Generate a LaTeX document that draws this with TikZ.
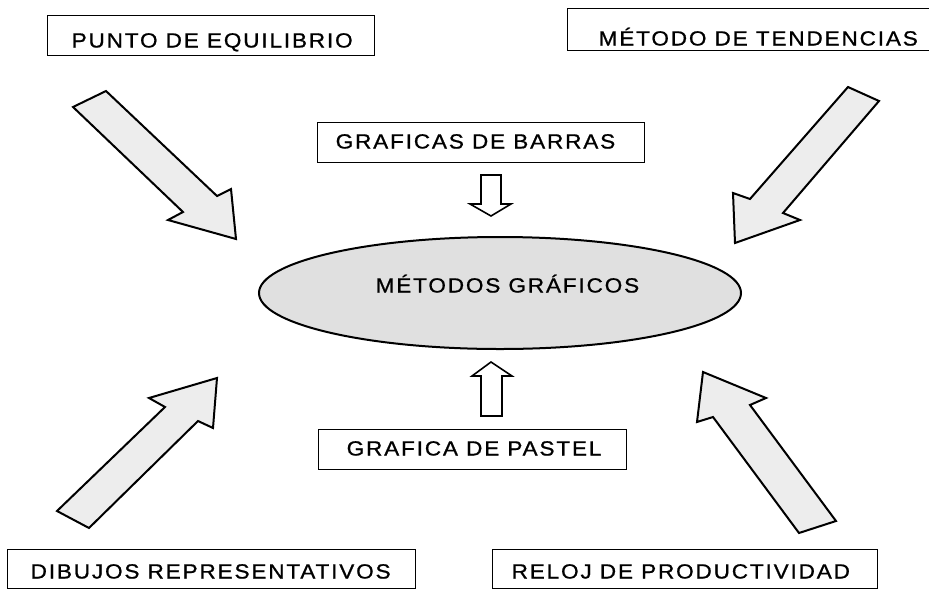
\documentclass[tikz,border=0pt]{standalone}
\usepackage{fontspec}
\setmainfont{Liberation Sans}[LetterSpace=9, FakeStretch=1.1, FakeBold=0.9]
\begin{document}
\begin{tikzpicture}[x=1pt,y=-1pt,
  box/.style={draw=black, line width=1.4pt, fill=white, anchor=north west, inner sep=0pt},
  lbl/.style={anchor=base west, inner sep=0pt, font=\fontsize{20.5}{23}\selectfont, text=black},
  bigarrow/.style={draw=black, line width=2pt, fill=black!7, line join=miter},
  smallarrow/.style={draw=black, line width=1.6pt, fill=white, line join=miter}]
\useasboundingbox (0,0) rectangle (929,590);
\fill[white] (0,0) rectangle (929,590);

% boxes
\node[box, minimum width=327pt, minimum height=40pt] (peqbox) at (47,15) {};
\node[box, minimum width=370pt, minimum height=42pt] (mdtbox) at (567,8) {};
\node[box, minimum width=327pt, minimum height=40pt] (gdbbox) at (317,122) {};
\node[box, minimum width=308pt, minimum height=40pt] (gdpbox) at (318,429) {};
\node[box, minimum width=408pt, minimum height=39pt] (drbox) at (7,549) {};
\node[box, minimum width=385pt, minimum height=39pt] (rdpbox) at (492,549) {};

% labels
\node[lbl] (peq) at (71.5,47.5) {PUNTO DE EQUILIBRIO};
\node[lbl] (mdt) at (598.5,45.5) {MÉTODO DE TENDENCIAS};
\node[lbl] (gdb) at (335.5,148.5) {GRAFICAS DE BARRAS};
\node[lbl] (gdp) at (346.5,455.5) {GRAFICA DE PASTEL};
\node[lbl] (dr) at (30.5,578.5) {DIBUJOS REPRESENTATIVOS};
\node[lbl] (rdp) at (511.5,578.5) {RELOJ DE PRODUCTIVIDAD};

% central ellipse
\draw[draw=black, line width=2pt, fill=black!12] (500,293) ellipse [x radius=241, y radius=56];
\node[lbl] (mg) at (375.5,292.5) {MÉTODOS GRÁFICOS};

% big block arrows
\draw[bigarrow] (73,107) -- (106,91) -- (217,196) -- (231,189) -- (236,239) -- (168,220) -- (183,212) -- cycle;
\draw[bigarrow] (848,87) -- (879,101) -- (783,213) -- (800,220) -- (735,243) -- (733,193) -- (750,199) -- cycle;
\draw[bigarrow] (57,511) -- (89,528) -- (198,421) -- (213,428) -- (217,378) -- (149,398) -- (165,407) -- cycle;
\draw[bigarrow] (836,521) -- (799,533) -- (713,417) -- (697,422) -- (703,372) -- (766,398) -- (750,405) -- cycle;

% small arrows
\draw[smallarrow] (481,175) -- (501,175) -- (501,204) -- (511,204) -- (491,216) -- (470,204) -- (481,204) -- cycle;
\draw[smallarrow] (481,416) -- (502,416) -- (502,376) -- (512,376) -- (491,362) -- (472,376) -- (481,376) -- cycle;
\end{tikzpicture}
\end{document}
